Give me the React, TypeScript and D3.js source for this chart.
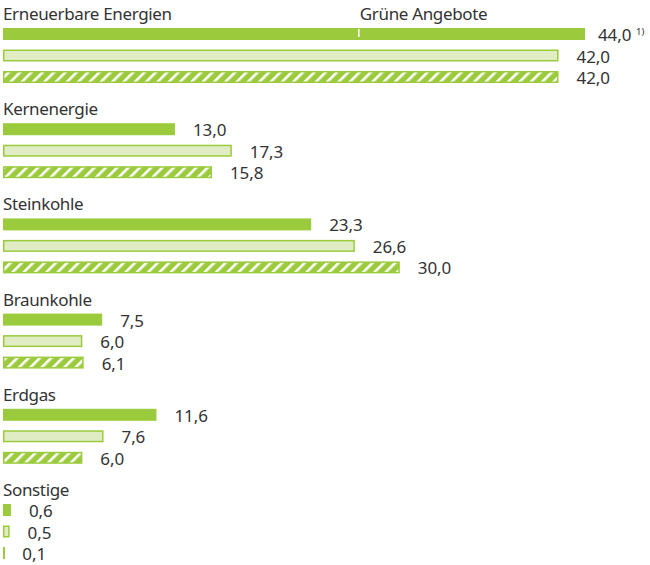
import React from "react";
import * as d3 from "d3";

const categories = ["Erneuerbare Energien", "Kernenergie", "Steinkohle", "Braunkohle", "Erdgas", "Sonstige"];
const seriesA = [44.0, 13.0, 23.3, 7.5, 11.6, 0.6]; // solid
const seriesB = [42.0, 17.3, 26.6, 6.0, 7.6, 0.5]; // light
const seriesC = [42.0, 15.8, 30.0, 6.1, 6.0, 0.1]; // hatched
const labelsA = ["44,0", "13,0", "23,3", "7,5", "11,6", "0,6"];
const labelsB = ["42,0", "17,3", "26,6", "6,0", "7,6", "0,5"];
const labelsC = ["42,0", "15,8", "30,0", "6,1", "6,0", "0,1"];
const greenOfferValue = 26.9;
const greenOfferLabel = "Grüne Angebote";
const footnote = "1)";

const GREEN = "#9BCB3C";
const LIGHT = "#DFECC4";
const TEXT = "#333333";
const FONT = "'Noto Sans', sans-serif";

export default function App() {
  const W = 650;
  const H = 565;
  const x = d3.scaleLinear().domain([0, 44]).range([3, 585]);
  const groupStep = 95.2;
  const barStep = 21.5;
  const barH = 12;
  const series = [seriesA, seriesB, seriesC];
  const labels = [labelsA, labelsB, labelsC];

  return (
    <svg width={W} height={H} style={{ position: "absolute", left: 0, top: 0 }}>
      <defs>
        <pattern id="hatch" patternUnits="userSpaceOnUse" width="8" height="8" patternTransform="rotate(45)">
          <rect width="8" height="8" fill={GREEN} />
          <rect x="0" y="0" width="2.6" height="8" fill="#ffffff" />
        </pattern>
      </defs>
      {categories.map((cat, g) => {
        const gy = g * groupStep;
        return (
          <g key={cat}>
            <text x={3} y={20 + gy} fontFamily={FONT} fontSize={17} letterSpacing={-0.35} fill={TEXT}>
              {cat}
            </text>
            {series.map((s, i) => {
              const v = s[g];
              const y0 = 28 + gy + i * barStep;
              const xe = x(v);
              const w = Math.max(xe - x(0), 0.8);
              const gap = g === 0 && i === 0 ? 13 : 18;
              let bar;
              if (i === 0) {
                bar = <rect x={x(0)} y={y0} width={w} height={barH} fill={GREEN} />;
              } else if (i === 1) {
                bar = (
                  <rect x={x(0) + 0.75} y={y0 + 0.75} width={Math.max(w - 1.5, 0.5)} height={barH - 1.5}
                    fill={LIGHT} stroke={GREEN} strokeWidth={1.5} />
                );
              } else {
                bar = (
                  <rect x={x(0) + 0.75} y={y0 + 0.75} width={Math.max(w - 1.5, 0.5)} height={barH - 1.5}
                    fill="url(#hatch)" stroke={GREEN} strokeWidth={1.5} />
                );
              }
              return (
                <g key={i}>
                  {bar}
                  <text x={x(0) + w + gap} y={y0 + 13} fontFamily={FONT} fontSize={17} letterSpacing={-0.1} fill={TEXT}>
                    {labels[i][g]}
                  </text>
                  {g === 0 && i === 0 && (
                    <text x={x(0) + w + gap + 38} y={y0 + 6.5} fontFamily={FONT} fontSize={9.5} fill={TEXT}>
                      {footnote}
                    </text>
                  )}
                </g>
              );
            })}
            {g === 0 && (
              <g>
                <rect x={x(greenOfferValue) - 0.75} y={29} width={1.5} height={8} fill="#ffffff" />
                <text x={x(greenOfferValue) + 1} y={20} fontFamily={FONT} fontSize={17} letterSpacing={-0.35} fill={TEXT}>
                  {greenOfferLabel}
                </text>
              </g>
            )}
          </g>
        );
      })}
    </svg>
  );
}
